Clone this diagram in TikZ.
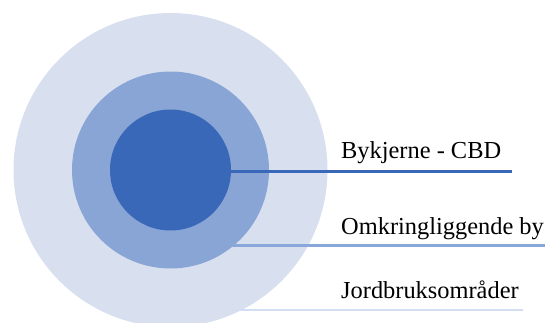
\documentclass[tikz,border=0pt]{standalone}
\usepackage{fontspec}
\setmainfont{Liberation Serif}
\definecolor{ringout}{RGB}{216,224,240}
\definecolor{ringmid}{RGB}{137,165,213}
\definecolor{ringin}{RGB}{58,104,184}
\definecolor{leadmid}{RGB}{138,167,218}
\definecolor{leadout}{RGB}{212,222,242}
\begin{document}
\begin{tikzpicture}[x=1pt,y=-1pt,
  zone/.style={circle,inner sep=0pt,outer sep=0pt,draw=none},
  label/.style={anchor=base west,inner sep=0pt,font=\fontsize{24.4}{28}\selectfont,text=black},
  leader/.style={line width=3pt}]
  \useasboundingbox (0,0) rectangle (549,322);
  \clip (0,0) rectangle (549,322);
  % concentric zones
  \node[zone,fill=ringout,minimum size=314pt] (outer) at (170.5,170) {};
  \node[zone,fill=ringmid,minimum size=197pt] (middle) at (170.5,170) {};
  \node[zone,fill=ringin,minimum size=121pt] (inner) at (170.5,170) {};
  % labels
  \node[label] (cbd) at (341,158.3) {Bykjerne - CBD};
  \node[label] (by) at (341,234) {Omkringliggende by};
  \node[label] (jord) at (341,298.3) {Jordbruksområder};
  % leader lines under each label
  \coordinate (cbdend) at (512,171.5);
  \coordinate (bystart) at (232,245);
  \coordinate (byend) at (545,245);
  \coordinate (jordstart) at (232,310);
  \coordinate (jordend) at (523,310);
  \draw[leader,draw=ringin] (inner.east |- cbdend) -- (cbdend);
  \draw[leader,draw=leadmid] (bystart) -- (byend);
  \draw[leader,draw=leadout,line width=2.5pt] (jordstart) -- (jordend);
\end{tikzpicture}
\end{document}
